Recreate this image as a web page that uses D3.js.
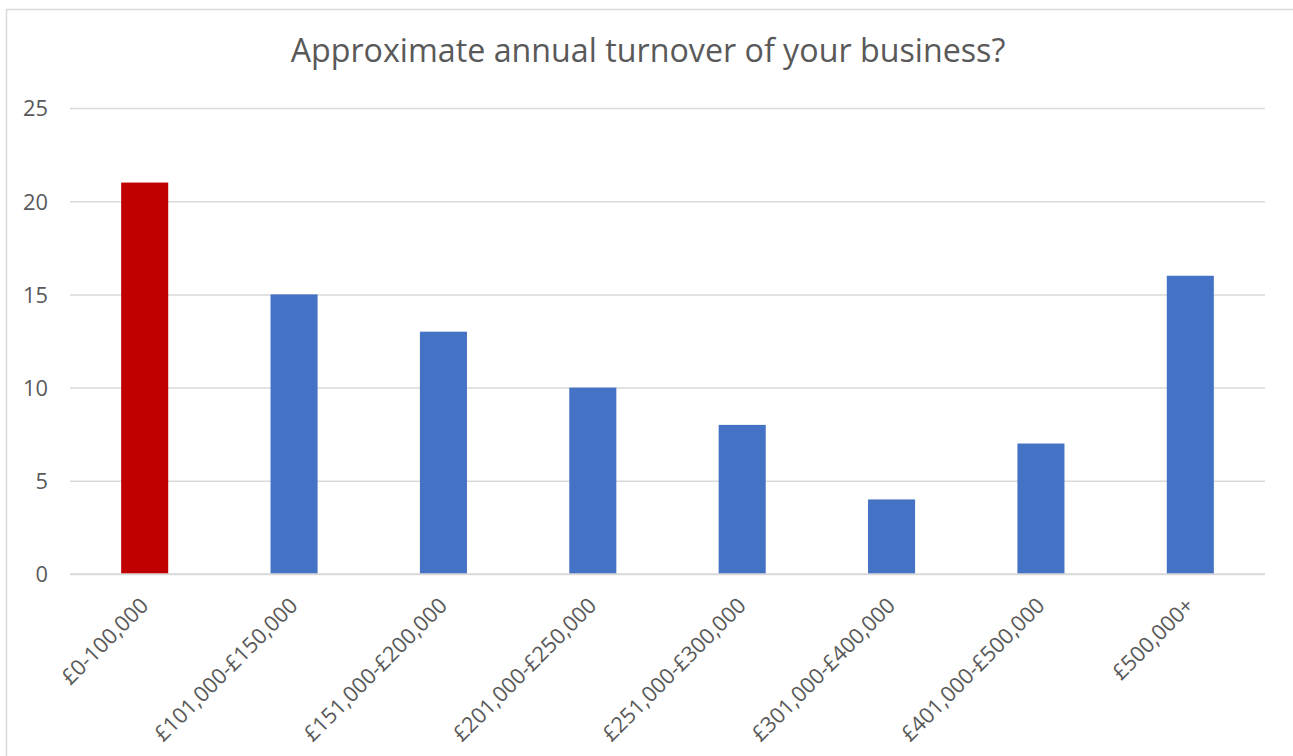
<!DOCTYPE html>
<html>
<head>
<meta charset="utf-8">
<script src="https://cdn.jsdelivr.net/npm/d3@7"></script>
<style>
  body { margin: 0; background: #fff; }
  text { font-family: "Open Sans", "Noto Sans", sans-serif; fill: #595959; }
</style>
</head>
<body>
<div id="chart"></div>
<script>
// chart data
const categories = ['£0-100,000', '£101,000-£150,000', '£151,000-£200,000', '£201,000-£250,000',
    '£251,000-£300,000', '£301,000-£400,000', '£401,000-£500,000', '£500,000+'];
const values = [21, 15, 13, 10, 8, 4, 7, 16];
const barColors = ['#C00000', '#4472C4', '#4472C4', '#4472C4', '#4472C4', '#4472C4', '#4472C4', '#4472C4'];
const yTicks = [0, 5, 10, 15, 20, 25];
const title = 'Approximate annual turnover of your business?';

// shrink/grow a text element's font so it spans roughly `target` px
function fitWidth(sel, target, base) {
    sel.style('font-size', base + 'px');
    const w = sel.node().getComputedTextLength();
    if (w > 0) sel.style('font-size', (base * target / w).toFixed(2) + 'px');
}

function turnoverChart() {
    const W = 1293, H = 756;
    const margin = {top: 108, right: 28, bottom: 182, left: 70};
    const width = W - margin.left - margin.right;
    const height = H - margin.top - margin.bottom;

    const root = d3.select('#chart')
        .append('svg')
        .attr('width', W)
        .attr('height', H);

    // outer chart frame (only top & left edges show in the reference)
    root.append('rect')
        .attr('x', 6.5).attr('y', 9.5)
        .attr('width', W + 20).attr('height', H + 20)
        .attr('fill', 'none')
        .attr('stroke', '#D9D9D9')
        .attr('stroke-width', 1.5);

    const svg = root.append('g')
        .attr('transform', `translate(${margin.left}, ${margin.top})`);

    const xScale = d3.scaleBand()
        .domain(categories)
        .range([0, width])
        .paddingInner(0.685)
        .paddingOuter(0.3425);

    const yScale = d3.scaleLinear()
        .domain([0, 25])
        .range([height, 0]);

    // gridlines + y labels
    const yAxis = svg.append('g')
        .call(d3.axisLeft(yScale).tickValues(yTicks).tickSize(-width).tickPadding(22));
    yAxis.select('.domain').remove();
    yAxis.selectAll('.tick line').attr('stroke', '#D9D9D9').attr('stroke-width', 1.5);
    yAxis.selectAll('.tick text')
        .attr('fill', '#595959')
        .attr('dy', '0.36em');
    fitWidth(yAxis.select('.tick:last-of-type text'), 25, 18);
    const tickSize = yAxis.select('.tick:last-of-type text').style('font-size');
    yAxis.selectAll('.tick text').style('font-size', tickSize);

    // bars
    svg.selectAll('.bar')
        .data(values)
        .join('rect')
        .attr('class', 'bar')
        .attr('x', (d, i) => xScale(categories[i]))
        .attr('y', d => yScale(d))
        .attr('width', xScale.bandwidth())
        .attr('height', d => height - yScale(d))
        .attr('fill', (d, i) => barColors[i]);

    // category labels, rotated
    const xAxis = svg.append('g')
        .attr('transform', `translate(0, ${height})`)
        .call(d3.axisBottom(xScale).tickSize(0).tickPadding(0));
    xAxis.select('.domain').remove();
    const labels = xAxis.selectAll('.tick text')
        .attr('fill', '#595959')
        .attr('text-anchor', 'end')
        .attr('dy', 0)
        .attr('transform', 'translate(5, 33) rotate(-45)');
    fitWidth(d3.select(labels.nodes()[1]), 192, 18);
    labels.style('font-size', d3.select(labels.nodes()[1]).style('font-size'));

    // baseline
    svg.append('line')
        .attr('x1', 0).attr('x2', width)
        .attr('y1', height).attr('y2', height)
        .attr('stroke', '#D9D9D9')
        .attr('stroke-width', 1.5);

    // title
    const t = root.append('text')
        .attr('x', 648)
        .attr('y', 62)
        .attr('text-anchor', 'middle')
        .text(title);
    fitWidth(t, 715, 30);
}

turnoverChart();
</script>
</body>
</html>
